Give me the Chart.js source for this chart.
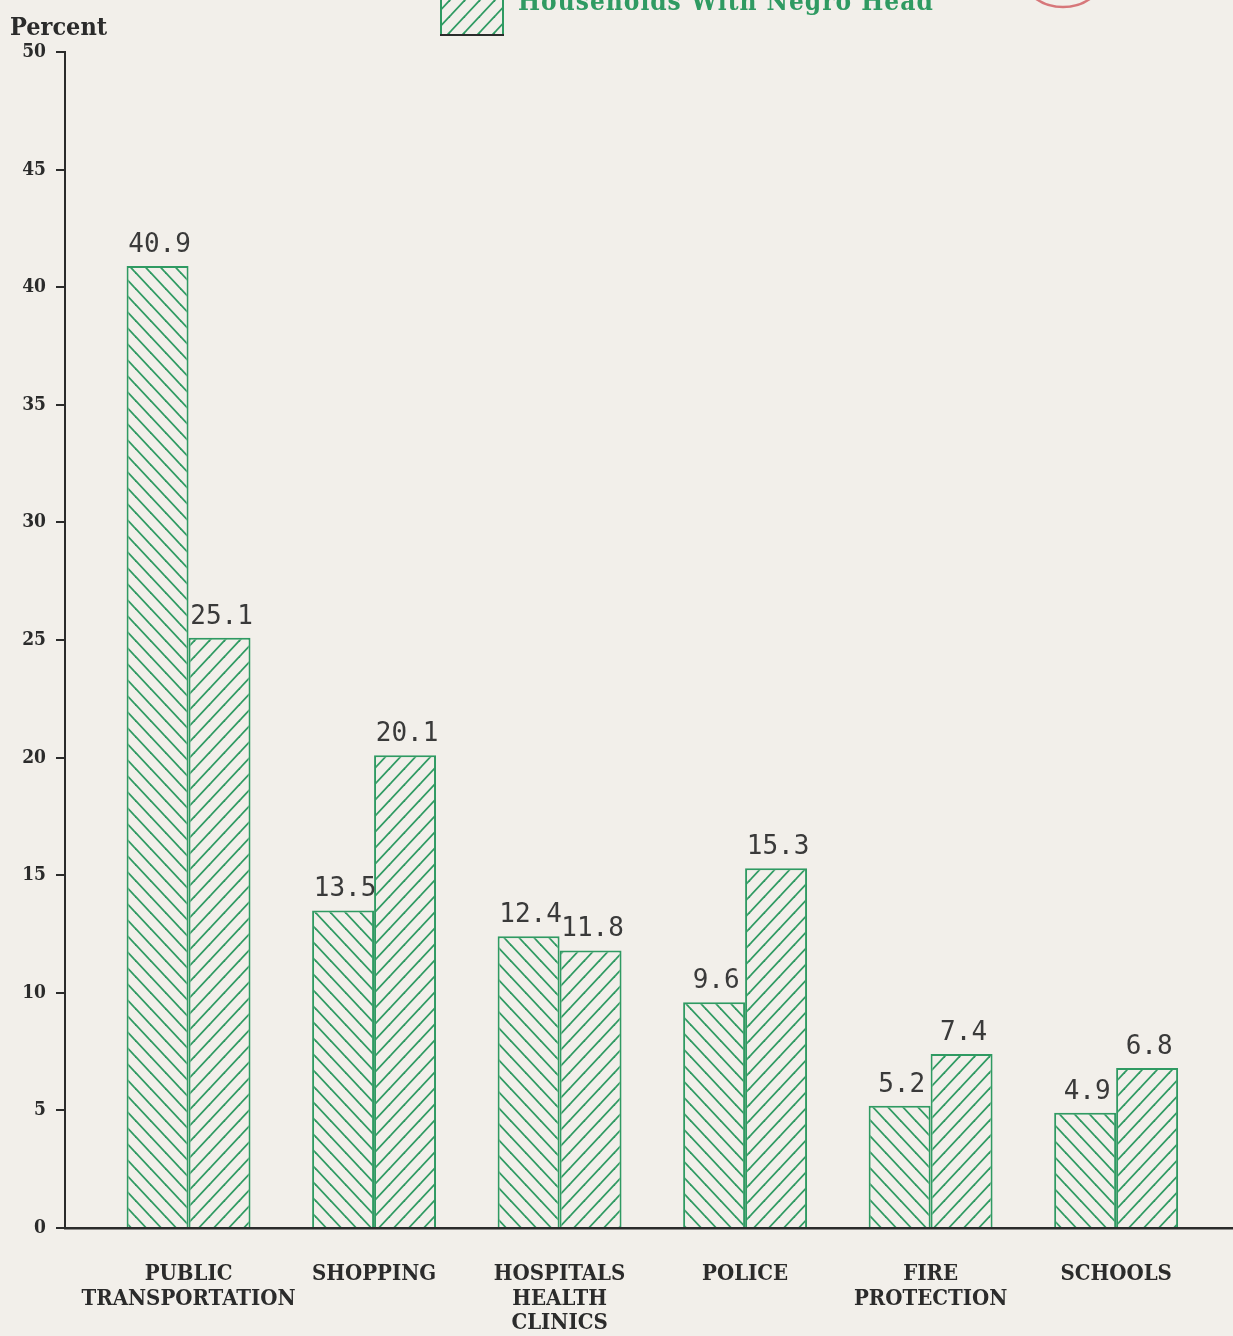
<!DOCTYPE html>
<html lang="en">
<head>
<meta charset="UTF-8" />
<title>Percent of households dissatisfied with neighborhood services</title>
<script src="https://cdn.jsdelivr.net/npm/chart.js"></script>
<style>
    html, body { margin: 0; padding: 0; background: #f2efea; }
    #wrap { position: relative; width: 1233px; height: 1336px; }
</style>
</head>
<body>
<div id="wrap"><canvas id="servicesChart"></canvas></div>
<script>
    // data
    const categories = [
        ['PUBLIC', 'TRANSPORTATION'],
        ['SHOPPING'],
        ['HOSPITALS', 'HEALTH', 'CLINICS'],
        ['POLICE'],
        ['FIRE', 'PROTECTION'],
        ['SCHOOLS']
    ];
    const seriesNames = ['Other Households', 'Households With Negro Head'];
    const otherHeadValues = [40.9, 13.5, 12.4, 9.6, 5.2, 4.9];
    const negroHeadValues = [25.1, 20.1, 11.8, 15.3, 7.4, 6.8];
    const yMax = 50;
    const yStep = 5;

    const PAPER = '#f2efea';
    const GREEN = '#2f9a62';
    const INK = '#2b2b2b';
    const SERIF = "'DejaVu Serif Condensed', 'DejaVu Serif', serif";
    const MONO = "'DejaVu Sans Mono', monospace";

    // hatch pattern, dir 1 = "//", dir -1 = "\\"
    function hatch(dir) {
        const w = 15, h = 16;
        const c = document.createElement('canvas');
        c.width = w; c.height = h;
        const g = c.getContext('2d');
        g.fillStyle = PAPER;
        g.fillRect(0, 0, w, h);
        g.strokeStyle = GREEN;
        g.lineWidth = 1.8;
        for (let k = -1; k <= 1; k++) {
            g.beginPath();
            if (dir > 0) {
                g.moveTo(k * w - 2 * w / h, h + 2);
                g.lineTo(k * w + w + 2 * w / h, -2);
            } else {
                g.moveTo(k * w - 2 * w / h, -2);
                g.lineTo(k * w + w + 2 * w / h, h + 2);
            }
            g.stroke();
        }
        return g.createPattern(c, 'repeat');
    }

    const backSlash = hatch(-1);
    const slash = hatch(1);

    const paperPlugin = {
        id: 'paper',
        beforeDraw(chart) {
            const ctx = chart.ctx;
            ctx.save();
            ctx.fillStyle = PAPER;
            ctx.fillRect(0, 0, chart.width, chart.height);
            ctx.restore();
        }
    };

    // value labels, "Percent" heading and the partly cut legend
    const extrasPlugin = {
        id: 'extras',
        afterDatasetsDraw(chart) {
            const ctx = chart.ctx;
            ctx.save();
            ctx.font = '26px ' + MONO;
            ctx.fillStyle = '#3a3a3a';
            ctx.textAlign = 'center';
            ctx.textBaseline = 'alphabetic';
            chart.data.datasets.forEach((ds, di) => {
                chart.getDatasetMeta(di).data.forEach((bar, i) => {
                    ctx.fillText(ds.data[i].y.toFixed(1), bar.x + 2, bar.y - 14);
                });
            });
            ctx.restore();
        },
        afterDraw(chart) {
            const ctx = chart.ctx;
            ctx.save();
            ctx.fillStyle = INK;
            ctx.font = 'bold 25px ' + SERIF;
            ctx.textAlign = 'left';
            ctx.textBaseline = 'alphabetic';
            ctx.fillText('Percent', 10, 35);

            // legend entry (top of the page is cut off)
            ctx.fillStyle = slash;
            ctx.fillRect(441, -5, 62, 40);
            ctx.strokeStyle = GREEN;
            ctx.lineWidth = 2;
            ctx.beginPath();
            ctx.moveTo(441, -5); ctx.lineTo(441, 35);
            ctx.moveTo(503, -5); ctx.lineTo(503, 35);
            ctx.stroke();
            ctx.strokeStyle = INK;
            ctx.beginPath();
            ctx.moveTo(440, 35); ctx.lineTo(504, 35);
            ctx.stroke();
            ctx.fillStyle = GREEN;
            ctx.font = 'bold 26px ' + SERIF;
            ctx.letterSpacing = '1px';
            ctx.fillText(seriesNames[1], 518, 10);

            // red stamp edge at the top
            ctx.strokeStyle = '#d7777a';
            ctx.lineWidth = 2.5;
            ctx.beginPath();
            ctx.ellipse(1063, -28, 42, 35, 0, 0, Math.PI);
            ctx.stroke();
            ctx.restore();
        }
    };

    const ctx = document.getElementById('servicesChart').getContext('2d');
    new Chart(ctx, {
        type: 'bar',
        data: {
            datasets: [{
                label: seriesNames[0],
                data: otherHeadValues.map((v, i) => ({ x: i, y: v })),
                backgroundColor: backSlash,
                borderColor: GREEN,
                borderWidth: 2
            }, {
                label: seriesNames[1],
                data: negroHeadValues.map((v, i) => ({ x: i, y: v })),
                backgroundColor: slash,
                borderColor: GREEN,
                borderWidth: 2
            }]
        },
        options: {
            responsive: true,
            maintainAspectRatio: false,
            animation: false,
            devicePixelRatio: 1,
            categoryPercentage: 0.668,
            barPercentage: 1,
            layout: { padding: { top: 52, left: 0, right: 0, bottom: 0 } },
            plugins: {
                legend: { display: false },
                tooltip: { enabled: false }
            },
            scales: {
                x: {
                    type: 'linear',
                    offset: false,
                    min: -0.666,
                    max: 5.63,
                    afterBuildTicks: axis => {
                        axis.ticks = categories.map((c, i) => ({ value: i }));
                    },
                    afterFit: axis => { axis.height = 108; },
                    grid: { display: false },
                    border: { display: true, color: INK, width: 2.5 },
                    ticks: {
                        autoSkip: false,
                        maxRotation: 0,
                        padding: 26,
                        color: INK,
                        font: { family: SERIF, size: 22, weight: 'bold', lineHeight: 1.12 },
                        callback: v => categories[v]
                    }
                },
                y: {
                    min: 0,
                    max: yMax,
                    afterFit: axis => { axis.width = 65; },
                    grid: {
                        drawOnChartArea: false,
                        drawTicks: true,
                        tickLength: 9,
                        color: INK,
                        lineWidth: 2
                    },
                    border: { display: true, color: INK, width: 2 },
                    ticks: {
                        stepSize: yStep,
                        padding: 10,
                        color: INK,
                        font: { family: SERIF, size: 19, weight: 'bold' }
                    }
                }
            }
        },
        plugins: [paperPlugin, extrasPlugin]
    });
</script>
</body>
</html>
